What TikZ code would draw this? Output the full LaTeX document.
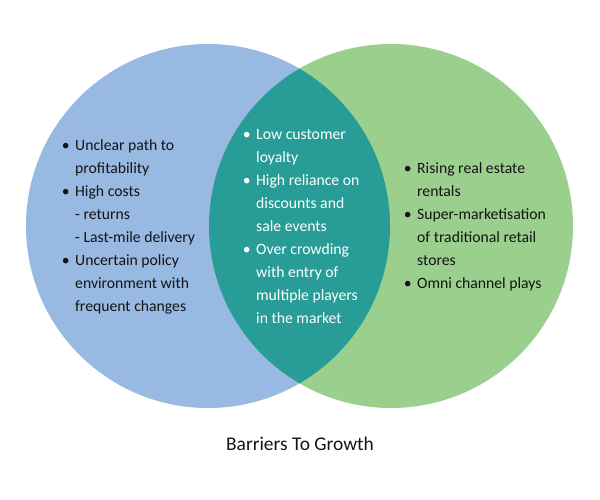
\documentclass[tikz,border=0pt]{standalone}
\usepackage{fontspec}
\setmainfont{Carlito}
\definecolor{vblue}{RGB}{151,185,226}
\definecolor{vgreen}{RGB}{154,207,141}
\definecolor{vteal}{RGB}{40,156,150}
\definecolor{vtext}{RGB}{20,20,20}
\begin{document}
\begin{tikzpicture}[x=1pt,y=-1pt,
  listtext/.style={anchor=base west,inner sep=0pt,align=left,
    font=\fontsize{15.7}{23}\selectfont},
  titletext/.style={anchor=base,inner sep=0pt,font=\fontsize{19.4}{23}\selectfont,text=vtext}]
\useasboundingbox (0,0) rectangle (600,500);
\newcommand\bul{\llap{\textbullet\hspace{5.5pt}}}
\fill[vblue] (208,226) circle (182);
\fill[vgreen] (391,226) circle (182);
\begin{scope}
  \clip (208,226) circle (182);
  \fill[vteal] (391,226) circle (182);
\end{scope}
\node[listtext,text=vtext] (left) at (75,311) {\bul Unclear path to\\profitability\\\bul High costs\\- returns\\- Last-mile delivery\\\bul Uncertain policy\\environment with\\frequent changes};
\node[listtext,text=white] (mid) at (256,323) {\bul Low customer\\loyalty\\\bul High reliance on\\discounts and\\sale events\\\bul Over crowding\\with entry of\\multiple players\\in the market};
\node[listtext,text=vtext] (right) at (417,288) {\bul Rising real estate\\rentals\\\bul Super-marketisation\\of traditional retail\\stores\\\bul Omni channel plays};
\node[titletext] (title) at (300,450) {Barriers To Growth};
\end{tikzpicture}
\end{document}
